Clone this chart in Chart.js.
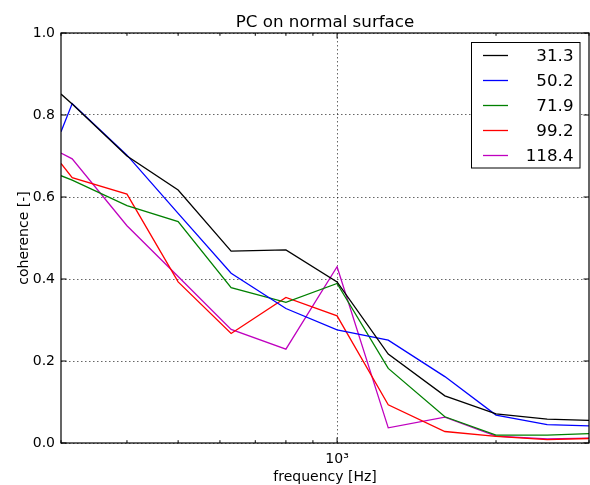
<!DOCTYPE html>
<html>
<head>
<meta charset="utf-8">
<script src="https://cdn.jsdelivr.net/npm/chart.js@4/dist/chart.umd.min.js"></script>
<style>
  body { margin: 0; background: #fff; }
  #wrap { width: 590px; height: 485px; }
</style>
</head>
<body>
<div id="wrap"><canvas id="c" width="590" height="485"></canvas></div>
<script>
// frequency bands [Hz] (first/last = axis edges)
const freqs = [300, 315, 400, 500, 630, 800, 1000, 1250, 1600, 2000, 2500, 3000];
const seriesNames = ["31.3", "50.2", "71.9", "99.2", "118.4"];
const s313 = [0.851, 0.827, 0.700, 0.617, 0.468, 0.471, 0.393, 0.217, 0.115, 0.071, 0.058, 0.055];
const s502 = [0.759, 0.828, 0.702, 0.560, 0.414, 0.328, 0.276, 0.251, 0.162, 0.068, 0.045, 0.042];
const s719 = [0.652, 0.641, 0.579, 0.540, 0.379, 0.343, 0.389, 0.182, 0.064, 0.019, 0.019, 0.023];
const s992 = [0.682, 0.647, 0.607, 0.393, 0.267, 0.355, 0.310, 0.093, 0.028, 0.016, 0.008, 0.011];
const s1184 = [0.707, 0.693, 0.530, 0.406, 0.277, 0.229, 0.430, 0.037, 0.063, 0.017, 0.010, 0.012];
const colors = ["#000000", "#0000ff", "#008000", "#ff0000", "#bf00bf"];

const yTicks = [0, 0.2, 0.4, 0.6, 0.8, 1.0];
const xTicks = [300, 400, 500, 600, 700, 800, 900, 1000, 2000, 3000];

const FONT = "'DejaVu Sans', sans-serif";

const allSeries = [s313, s502, s719, s992, s1184];
const datasets = allSeries.map((vals, i) => ({
  label: seriesNames[i],
  data: freqs.map((f, j) => ({ x: f, y: vals[j] })),
  borderColor: colors[i],
  backgroundColor: colors[i],
  borderWidth: 1.3,
  pointRadius: 0,
  tension: 0,
  fill: false,
}));

// frame, inward ticks, title, axis labels, legend
const decorations = {
  id: "decorations",
  afterDraw(chart) {
    const ctx = chart.ctx;
    const a = chart.chartArea;
    const xs = chart.scales.x;
    const ys = chart.scales.y;
    ctx.save();

    ctx.strokeStyle = "#000";
    ctx.lineWidth = 1;
    ctx.beginPath();
    yTicks.forEach((v) => {
      const py = ys.getPixelForValue(v);
      ctx.moveTo(a.left, py); ctx.lineTo(a.left + 5.5, py);
      ctx.moveTo(a.right, py); ctx.lineTo(a.right - 5.5, py);
    });
    xTicks.forEach((v) => {
      const px = xs.getPixelForValue(v);
      const len = v === 1000 ? 5.5 : 2.8;
      ctx.moveTo(px, a.bottom); ctx.lineTo(px, a.bottom - len);
      ctx.moveTo(px, a.top); ctx.lineTo(px, a.top + len);
    });
    ctx.stroke();

    ctx.lineWidth = 1.2;
    ctx.strokeRect(a.left, a.top, a.right - a.left, a.bottom - a.top);

    ctx.fillStyle = "#000";
    ctx.textAlign = "center";
    ctx.textBaseline = "alphabetic";
    ctx.font = "16.7px " + FONT;
    ctx.fillText("PC on normal surface", (a.left + a.right) / 2, 27);

    ctx.font = "14px " + FONT;
    ctx.fillText("frequency [Hz]", (a.left + a.right) / 2, 481);
    ctx.save();
    ctx.translate(28, (a.top + a.bottom) / 2);
    ctx.rotate(-Math.PI / 2);
    ctx.fillText("coherence [-]", 0, 0);
    ctx.restore();

    // legend
    const bx = 471.5, by = 42.5, bw = 108.5, bh = 125.5;
    ctx.fillStyle = "#fff";
    ctx.fillRect(bx, by, bw, bh);
    ctx.lineWidth = 1;
    ctx.strokeStyle = "#000";
    ctx.strokeRect(bx, by, bw, bh);
    ctx.font = "16.7px " + FONT;
    ctx.textAlign = "right";
    ctx.textBaseline = "middle";
    chart.data.datasets.forEach((ds, i) => {
      const ly = 55.5 + 25 * i;
      ctx.strokeStyle = ds.borderColor;
      ctx.lineWidth = 1.3;
      ctx.beginPath();
      ctx.moveTo(483, ly); ctx.lineTo(508, ly);
      ctx.stroke();
      ctx.fillStyle = "#000";
      ctx.fillText(ds.label, 573.5, ly + 1);
    });
    ctx.restore();
  },
};

new Chart(document.getElementById("c"), {
  type: "line",
  data: { datasets },
  options: {
    responsive: false,
    animation: false,
    layout: { padding: { top: 33, right: 1, left: 0, bottom: 0 } },
    plugins: { legend: { display: false }, title: { display: false }, tooltip: { enabled: false } },
    scales: {
      x: {
        type: "logarithmic",
        min: 300,
        max: 3000,
        afterBuildTicks: (s) => { s.ticks = xTicks.map((v) => ({ value: v })); },
        afterFit: (s) => { s.height = 42; s.paddingLeft = 0; s.paddingRight = 0; },
        ticks: {
          autoSkip: false,
          maxRotation: 0,
          padding: 8,
          color: "#000",
          font: { family: FONT, size: 14 },
          callback: (v) => (v === 1000 ? "10\u00b3" : ""),
        },
        grid: {
          drawTicks: false,
          lineWidth: 1,
          color: (c) => (c.tick && c.tick.value === 1000 ? "rgba(0,0,0,0.6)" : "rgba(0,0,0,0)"),
        },
        border: { display: false, dash: [1.5, 2.5] },
      },
      y: {
        type: "linear",
        min: 0,
        max: 1,
        afterBuildTicks: (s) => { s.ticks = yTicks.map((v) => ({ value: v })); },
        afterFit: (s) => { s.width = 61; s.paddingTop = 0; s.paddingBottom = 0; },
        ticks: {
          padding: 6,
          color: "#000",
          font: { family: FONT, size: 14 },
          callback: (v) => v.toFixed(1),
        },
        grid: { drawTicks: false, lineWidth: 1, color: "rgba(0,0,0,0.6)" },
        border: { display: false, dash: [1.5, 2.5] },
      },
    },
  },
  plugins: [decorations],
});
</script>
</body>
</html>
